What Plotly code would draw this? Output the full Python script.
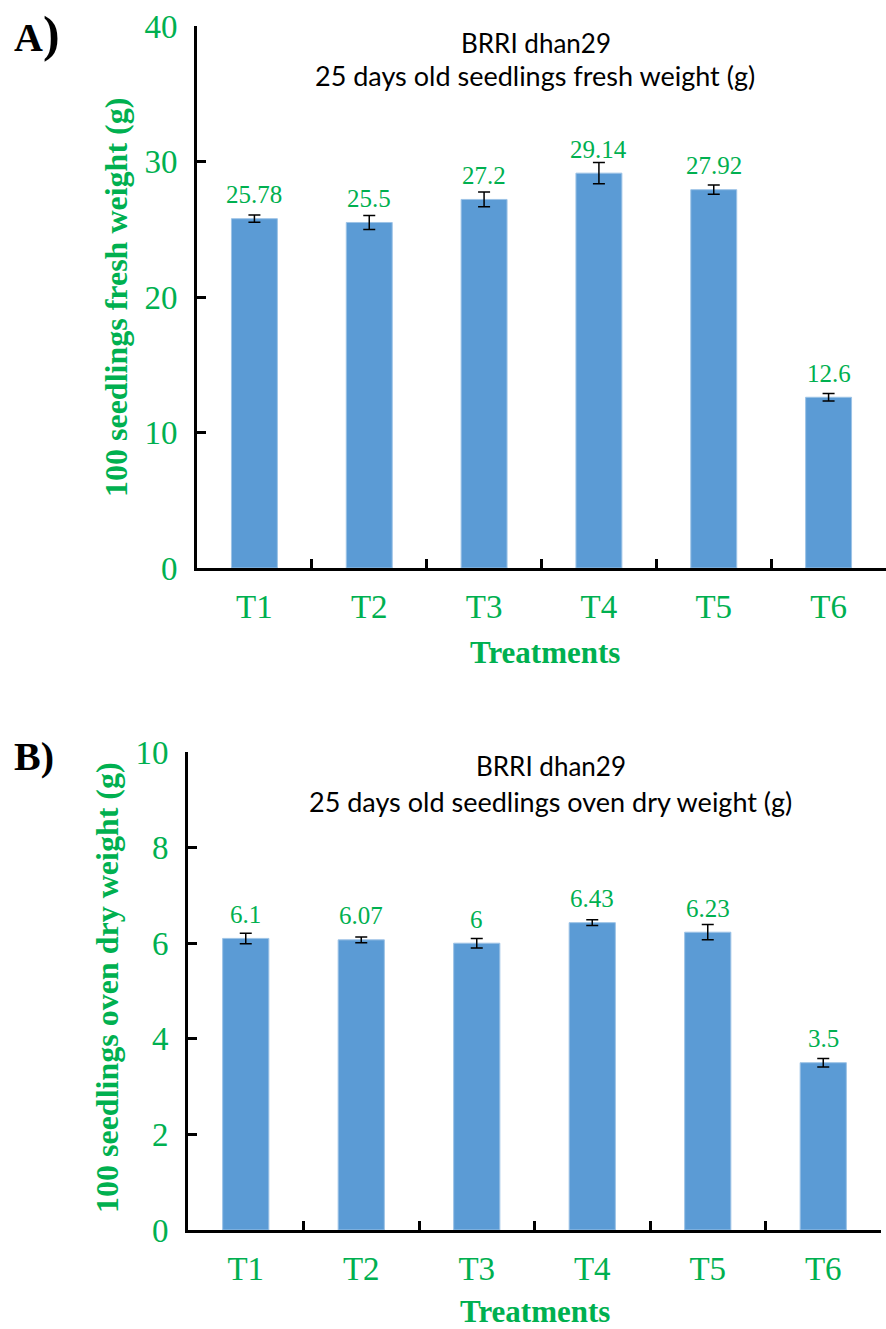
import plotly.graph_objects as go

# ---------------- data ----------------
treatments = ["T1", "T2", "T3", "T4", "T5", "T6"]
fresh_weight = [25.78, 25.5, 27.2, 29.14, 27.92, 12.6]
fresh_err = [0.27, 0.52, 0.54, 0.78, 0.34, 0.27]
fresh_labels = ["25.78", "25.5", "27.2", "29.14", "27.92", "12.6"]
dry_weight = [6.1, 6.07, 6.0, 6.43, 6.23, 3.5]
dry_err = [0.11, 0.06, 0.1, 0.06, 0.16, 0.09]
dry_labels = ["6.1", "6.07", "6", "6.43", "6.23", "3.5"]
fresh_ticks = [0, 10, 20, 30, 40]
dry_ticks = [0, 2, 4, 6, 8, 10]

W, H = 886, 1329
GREEN = "#00B050"
BAR = "#5B9BD5"
SERIF = "Liberation Serif"
SANS = "Lato"


def px(x):
    return x / W


def py(y):
    return 1 - y / H


fig = go.Figure()

fig.add_trace(go.Bar(
    x=treatments, y=fresh_weight, width=0.4,
    marker=dict(color=BAR, line=dict(color="#9DC3E6", width=1)),
    error_y=dict(type="data", array=fresh_err, color="black", thickness=1.5, width=6),
    xaxis="x", yaxis="y", showlegend=False, hoverinfo="x+y",
))
fig.add_trace(go.Bar(
    x=treatments, y=dry_weight, width=0.4,
    marker=dict(color=BAR, line=dict(color="#9DC3E6", width=1)),
    error_y=dict(type="data", array=dry_err, color="black", thickness=1.5, width=6),
    xaxis="x2", yaxis="y2", showlegend=False, hoverinfo="x+y",
))

xcommon = dict(
    type="category", showline=True, linecolor="black", linewidth=3,
    ticks="inside", tickson="boundaries", ticklen=9, tickwidth=3, tickcolor="black",
    tickfont=dict(family=SERIF, size=33, color=GREEN),
    ticklabelstandoff=7, showgrid=False, zeroline=False, range=[-0.5, 5.5],
    automargin=False,
)
ycommon = dict(
    showline=True, linecolor="black", linewidth=3,
    ticks="inside", ticklen=9, tickwidth=3, tickcolor="black",
    tickfont=dict(family=SERIF, size=33, color=GREEN),
    ticklabelstandoff=10, showgrid=False, zeroline=False,
    automargin=False,
)

fig.update_layout(
    template="none",
    width=W, height=H,
    margin=dict(l=0, r=0, t=0, b=0, pad=0, autoexpand=False),
    paper_bgcolor="white", plot_bgcolor="white",
    xaxis=dict(xcommon, domain=[px(197), 1.0], anchor="y"),
    yaxis=dict(ycommon, domain=[py(568), py(26)], range=[0, 40],
               tickvals=fresh_ticks, anchor="x"),
    xaxis2=dict(xcommon, domain=[px(188), px(881)], anchor="y2"),
    yaxis2=dict(ycommon, domain=[py(1230), py(752)], range=[0, 10],
                tickvals=dry_ticks, anchor="x2"),
    bargap=0.6,
)

ann = []
for t, v, lab in zip(treatments, fresh_weight, fresh_labels):
    ann.append(dict(x=t, y=v, xref="x", yref="y", text=lab, showarrow=False,
                    yanchor="middle", yshift=24,
                    font=dict(family=SERIF, size=25, color=GREEN)))
for t, v, lab in zip(treatments, dry_weight, dry_labels):
    ann.append(dict(x=t, y=v, xref="x2", yref="y2", text=lab, showarrow=False,
                    yanchor="middle", yshift=24,
                    font=dict(family=SERIF, size=25, color=GREEN)))

# chart titles
ann += [
    dict(x=px(536), y=py(43), xref="paper", yref="paper", text="BRRI dhan29",
         showarrow=False, xanchor="center", yanchor="middle",
         font=dict(family=SANS, size=26, color="black")),
    dict(x=px(535), y=py(75), xref="paper", yref="paper",
         text="25 days old seedlings fresh weight (g)",
         showarrow=False, xanchor="center", yanchor="middle",
         font=dict(family=SANS, size=27, color="black")),
    dict(x=px(551), y=py(766), xref="paper", yref="paper", text="BRRI dhan29",
         showarrow=False, xanchor="center", yanchor="middle",
         font=dict(family=SANS, size=26, color="black")),
    dict(x=px(550), y=py(801), xref="paper", yref="paper",
         text="25 days old seedlings oven dry weight (g)",
         showarrow=False, xanchor="center", yanchor="middle",
         font=dict(family=SANS, size=27, color="black")),
]

# axis titles
ann += [
    dict(x=px(116), y=py(298), xref="paper", yref="paper",
         text="<b>100 seedlings fresh weight (g)</b>", textangle=-90,
         showarrow=False, xanchor="center", yanchor="middle",
         font=dict(family=SERIF, size=32, color=GREEN)),
    dict(x=px(107), y=py(988), xref="paper", yref="paper",
         text="<b>100 seedlings oven dry weight (g)</b>", textangle=-90,
         showarrow=False, xanchor="center", yanchor="middle",
         font=dict(family=SERIF, size=32, color=GREEN)),
    dict(x=px(545), y=py(652), xref="paper", yref="paper",
         text="<b>Treatments</b>", showarrow=False,
         xanchor="center", yanchor="middle",
         font=dict(family=SERIF, size=31, color=GREEN)),
    dict(x=px(535), y=py(1311), xref="paper", yref="paper",
         text="<b>Treatments</b>", showarrow=False,
         xanchor="center", yanchor="middle",
         font=dict(family=SERIF, size=31, color=GREEN)),
]

# panel labels
ann += [
    dict(x=px(12), y=py(34), xref="paper", yref="paper",
         text="<b>A<span style='font-size:50px'>)</span></b>", showarrow=False,
         xanchor="left", yanchor="middle",
         font=dict(family=SERIF, size=40, color="black")),
    dict(x=px(12), y=py(756), xref="paper", yref="paper",
         text="<b>B)</b>", showarrow=False,
         xanchor="left", yanchor="middle",
         font=dict(family=SERIF, size=40, color="black")),
]

fig.update_layout(annotations=ann)
fig.write_html(
    "out.html",
    config={"displayModeBar": False},
    post_script="document.body.style.margin='0';document.body.style.overflow='hidden';",
)
